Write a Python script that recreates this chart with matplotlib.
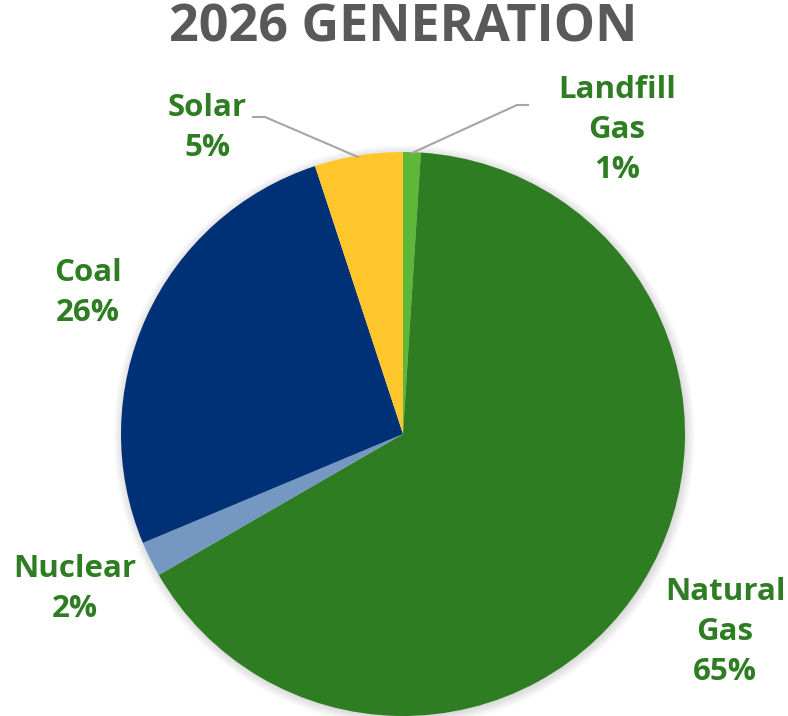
import matplotlib.pyplot as plt
from matplotlib.patches import Circle

# data
sources = ["Landfill\nGas", "Natural\nGas", "Nuclear", "Coal", "Solar"]
shares = [1, 65, 2, 26, 5]
colors = ["#5DB83A", "#2E7D22", "#7498C2", "#003176", "#FFC72C"]

# label centres in figure pixels (from top-left)
label_pos = [(617, 130), (725, 632), (75, 589), (88, 293), (207, 128)]

W, H = 788, 716
fig = plt.figure(figsize=(W / 100, H / 100), dpi=100)
plt.rcParams["font.family"] = ["Open Sans", "DejaVu Sans"]

cx, cy, r = 403, 434, 282
ax = fig.add_axes([(cx - 1.05 * r) / W, (H - cy - 1.05 * r) / H,
                   2.1 * r / W, 2.1 * r / H])

# soft shadow
for i in range(6):
    ax.add_patch(Circle((0.004, -0.006), 1.0 + 0.006 * i, color="k",
                        alpha=0.025, lw=0, zorder=0))

ax.pie(shares, colors=colors, startangle=90, counterclock=False, radius=1.0,
       wedgeprops=dict(linewidth=0), frame=True)
ax.set_xlim(-1.05, 1.05)
ax.set_ylim(-1.05, 1.05)
ax.set_aspect("equal")
ax.axis("off")

green = "#2E7D22"
for name, val, (x, y) in zip(sources, shares, label_pos):
    fig.text(x / W, 1 - y / H, f"{name}\n{val}%", ha="center", va="center",
             color=green, fontsize=22.5, fontweight="bold", linespacing=1.42)

# leader lines (figure pixel coords)
def leader(pts):
    xs = [p[0] / W for p in pts]
    ys = [1 - p[1] / H for p in pts]
    fig.add_artist(plt.Line2D(xs, ys, color="#A6A6A6", lw=1.5))

leader([(253, 117), (265, 117), (358, 157)])
leader([(412, 153), (517, 105), (528, 105)])

fig.text(403 / W, 1 - 28 / H, "2026 GENERATION", ha="center", va="center",
         color="#595959", fontsize=37.5, fontweight="bold")

fig.savefig("out.png", dpi=100)
